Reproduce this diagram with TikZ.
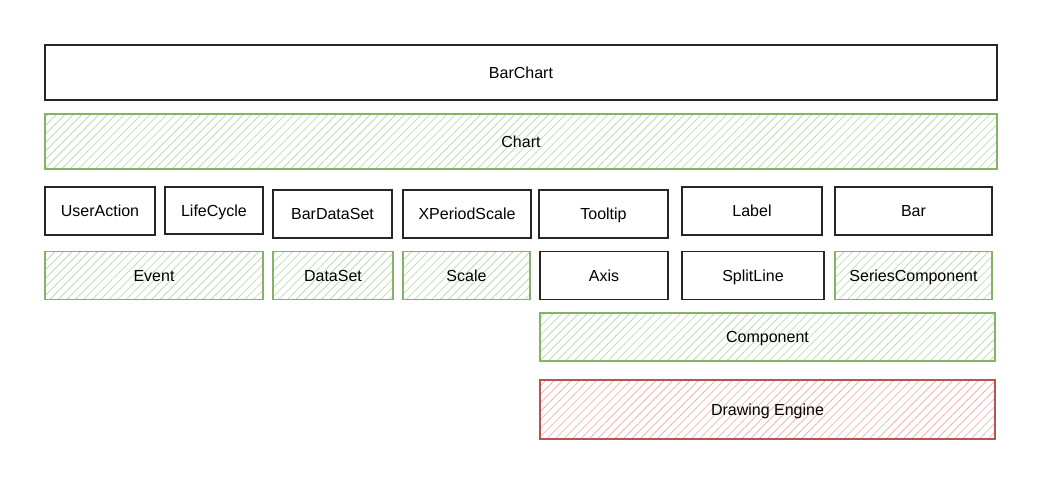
\documentclass[tikz,border=0pt]{standalone}
\usepackage{xcolor}
\usepackage{fontspec}
\setmainfont{Liberation Sans}
\usepackage{tikz}
\usetikzlibrary{patterns.meta, positioning}

\definecolor{basegreen}{RGB}{130,179,102}
\definecolor{hatchgreen}{RGB}{190,220,178}
\definecolor{enginered}{RGB}{184,84,80}
\definecolor{hatchred}{RGB}{240,180,178}

\begin{document}
\begin{tikzpicture} [
	x=1pt, y=-1pt, % one unit is one pixel of the layout
	font=\fontsize{16}{19}\selectfont,
	every node/.style={rectangle, inner sep=0pt, align=center, text height=11.5pt, text depth=0.5pt}, % all blocks are plain boxes
	block/.style={draw=black!85, line width=1.4pt}, % modules of the bar chart
	basebox/.style={draw=basegreen, line width=1.4pt, pattern={Lines[angle=45,distance=6pt,line width=0.8pt]}, pattern color=hatchgreen}, % shared base classes
	enginebox/.style={draw=enginered, line width=1.4pt, pattern={Lines[angle=45,distance=6pt,line width=0.8pt]}, pattern color=hatchred}, % lowest layer
	]
	\useasboundingbox (0,0) rectangle (1052,485);

	\node[block, minimum width=952pt, minimum height=55pt] (barchart) at (521,72.5) {BarChart};
	\node[basebox, minimum width=952pt, minimum height=55pt] (chart) at (521,141.5) {Chart};

	% modules
	\node[block, minimum width=110pt, minimum height=48pt] (useraction) at (100,211) {UserAction};
	\node[block, minimum width=98pt, minimum height=47pt] (lifecycle) at (214,210.5) {LifeCycle};
	\node[block, minimum width=119pt, minimum height=48pt] (bardataset) at (332.5,214) {BarDataSet};
	\node[block, minimum width=128pt, minimum height=48pt] (xperiodscale) at (467,214) {XPeriodScale};
	\node[block, minimum width=129pt, minimum height=48pt] (tooltip) at (603.5,214) {Tooltip};
	\node[block, minimum width=140pt, minimum height=48pt] (label) at (752,211) {Label};
	\node[block, minimum width=157pt, minimum height=48pt] (bar) at (913.5,211) {Bar};

	% base row
	\node[basebox, minimum width=218pt, minimum height=48pt] (event) at (154,275.5) {Event};
	\node[basebox, minimum width=120pt, minimum height=48pt] (dataset) at (333,275.5) {DataSet};
	\node[basebox, minimum width=127pt, minimum height=48pt] (scale) at (466.5,275.5) {Scale};
	\node[block, minimum width=128pt, minimum height=48pt] (axis) at (604,275.5) {Axis};
	\node[block, minimum width=142pt, minimum height=48pt] (splitline) at (753,275.5) {SplitLine};
	\node[basebox, minimum width=157pt, minimum height=48pt] (seriescomponent) at (913.5,275.5) {SeriesComponent};

	\node[basebox, minimum width=455pt, minimum height=48pt] (component) at (767.5,337) {Component};
	\node[enginebox, minimum width=455pt, minimum height=59pt] (engine) at (767.5,409.5) {Drawing Engine};
\end{tikzpicture}
\end{document}
